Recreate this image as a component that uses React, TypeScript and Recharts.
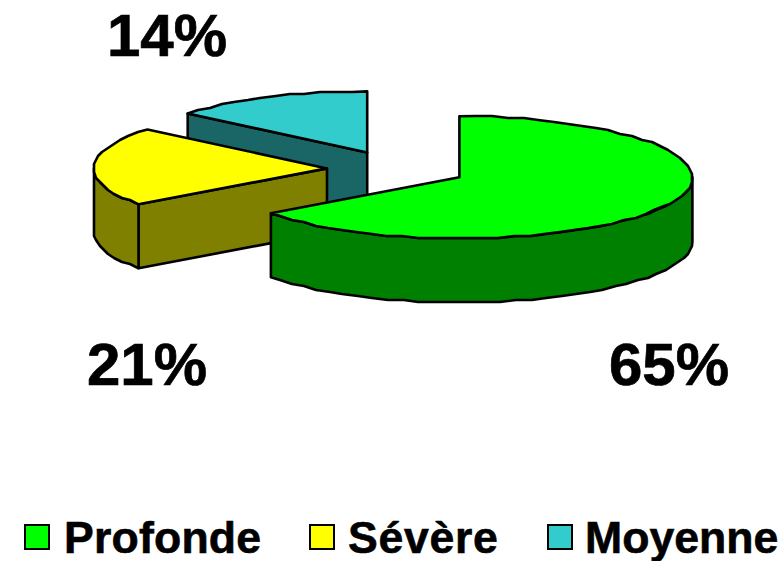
import { PieChart, Pie, Legend } from 'recharts';

const categories = ['Profonde', 'Sévère', 'Moyenne'];
const percents = [65, 21, 14];
const topColors = ['#00ff00', '#ffff00', '#33cccc'];
const sideColors = ['#008000', '#808000', '#1a6666'];

// label spots and legend spots, in the same order as categories
const labelSpots = [
  { x: 669, y: 385 },
  { x: 147, y: 385 },
  { x: 167, y: 56 },
];
const legendSpots = [
  { box: 24, text: 64, spacing: 0.2 },
  { box: 309, text: 348, spacing: 0.7 },
  { box: 547, text: 585, spacing: 0 },
];

// back slices first, so the green one is painted on top
const rows = categories
  .map((name, i) => ({ name, value: percents[i], fill: topColors[i], side: sideColors[i] }))
  .reverse();

const TILT = 0.262;
const DEPTH = 64;
const EXPLODE = 70;
const GRID = 2;
const rad = (a: number) => (a * Math.PI) / 180;
const snap = (v: number) => Math.round(v / GRID) * GRID;

function arcPoints(cx: number, cy: number, r: number, a1: number, a2: number) {
  const pts: [number, number][] = [];
  const steps = Math.max(1, Math.round(Math.abs(a2 - a1) / 4));
  for (let i = 0; i <= steps; i++) {
    const a = rad(a1 + ((a2 - a1) * i) / steps);
    const x = cx + r * Math.cos(a);
    const y = cy - r * TILT * Math.sin(a);
    // the original edge is a coarse, slightly wobbly polyline
    pts.push(i === 0 || i === steps ? [x, y] : [snap(x), snap(y)]);
  }
  return pts;
}

const toPath = (pts: [number, number][]) =>
  'M' + pts.map((p) => `${p[0].toFixed(1)},${p[1].toFixed(1)}`).join('L') + 'Z';

function Slice3D(props: any) {
  const { cx, cy, outerRadius: r, startAngle, endAngle, midAngle, fill, payload } = props;
  const side = payload.side ?? props.side;
  const ox = cx + EXPLODE * Math.cos(rad(midAngle));
  const oy = cy - EXPLODE * TILT * Math.sin(rad(midAngle));
  const a1 = Math.min(startAngle, endAngle);
  const a2 = Math.max(startAngle, endAngle);

  const wallFrom = Math.max(a1, 180);
  const wallTo = Math.min(a2, 360);
  const wall: [number, number][] =
    wallTo > wallFrom
      ? (() => {
          const top = arcPoints(ox, oy, r, wallFrom, wallTo);
          const bottom = top.map(([x, y]) => [x, y + DEPTH] as [number, number]).reverse();
          return [...top, ...bottom];
        })()
      : [];

  const showFace = Math.cos(rad(a2)) < -0.001;
  const corner: [number, number] = [
    ox + r * Math.cos(rad(a2)),
    oy - r * TILT * Math.sin(rad(a2)),
  ];
  const face: [number, number][] = [
    [ox, oy],
    corner,
    [corner[0], corner[1] + DEPTH],
    [ox, oy + DEPTH],
  ];
  const topFace: [number, number][] = [[ox, oy], ...arcPoints(ox, oy, r, a1, a2)];
  const line = { stroke: '#000', strokeWidth: 2.6, strokeLinejoin: 'round' as const };

  return (
    <g>
      {showFace && <path d={toPath(face)} fill={side} {...line} />}
      {wall.length > 0 && <path d={toPath(wall)} fill={side} {...line} />}
      <path d={toPath(topFace)} fill={fill} {...line} />
    </g>
  );
}

function renderLabel(props: any) {
  const i = categories.indexOf(props.name ?? props.payload?.name);
  return (
    <text
      x={labelSpots[i].x}
      y={labelSpots[i].y}
      textAnchor="middle"
      fontFamily="'Liberation Sans', Arial, sans-serif"
      fontWeight="bold"
      fontSize={60}
      fill="#000"
      stroke="#000"
      strokeWidth={0.7}
    >
      {percents[i]}%
    </text>
  );
}

function renderLegend() {
  return (
    <div style={{ position: 'relative', width: 780, height: 46 }}>
      {categories.map((name, i) => (
        <div key={name}>
          <span
            style={{
              position: 'absolute',
              left: legendSpots[i].box,
              top: 9,
              width: 26,
              height: 26,
              boxSizing: 'border-box',
              background: topColors[i],
              border: '2.5px solid #000',
            }}
          />
          <span
            style={{
              position: 'absolute',
              left: legendSpots[i].text,
              top: 0,
              fontFamily: "'Liberation Sans', Arial, sans-serif",
              fontWeight: 'bold',
              fontSize: 44.6,
              lineHeight: '46px',
              letterSpacing: legendSpots[i].spacing,
              whiteSpace: 'nowrap',
              color: '#000',
              WebkitTextStroke: '0.6px #000',
            }}
          >
            {name}
          </span>
        </div>
      ))}
    </div>
  );
}

export default function App() {
  return (
    <div style={{ position: 'absolute', left: 0, top: 0, width: 780, height: 561, background: '#fff' }}>
      <PieChart width={780} height={561} margin={{ top: 0, right: 0, bottom: 0, left: 0 }}>
        <Pie
          data={rows}
          dataKey="value"
          nameKey="name"
          cx={397}
          cy={169}
          innerRadius={0}
          outerRadius={233}
          startAngle={90}
          endAngle={450}
          stroke="#000"
          shape={Slice3D}
          label={renderLabel}
          labelLine={false}
          isAnimationActive={false}
        />
        <Legend
          content={renderLegend}
          wrapperStyle={{ position: 'absolute', left: 0, top: 515, width: 780, height: 46 }}
        />
      </PieChart>
    </div>
  );
}
